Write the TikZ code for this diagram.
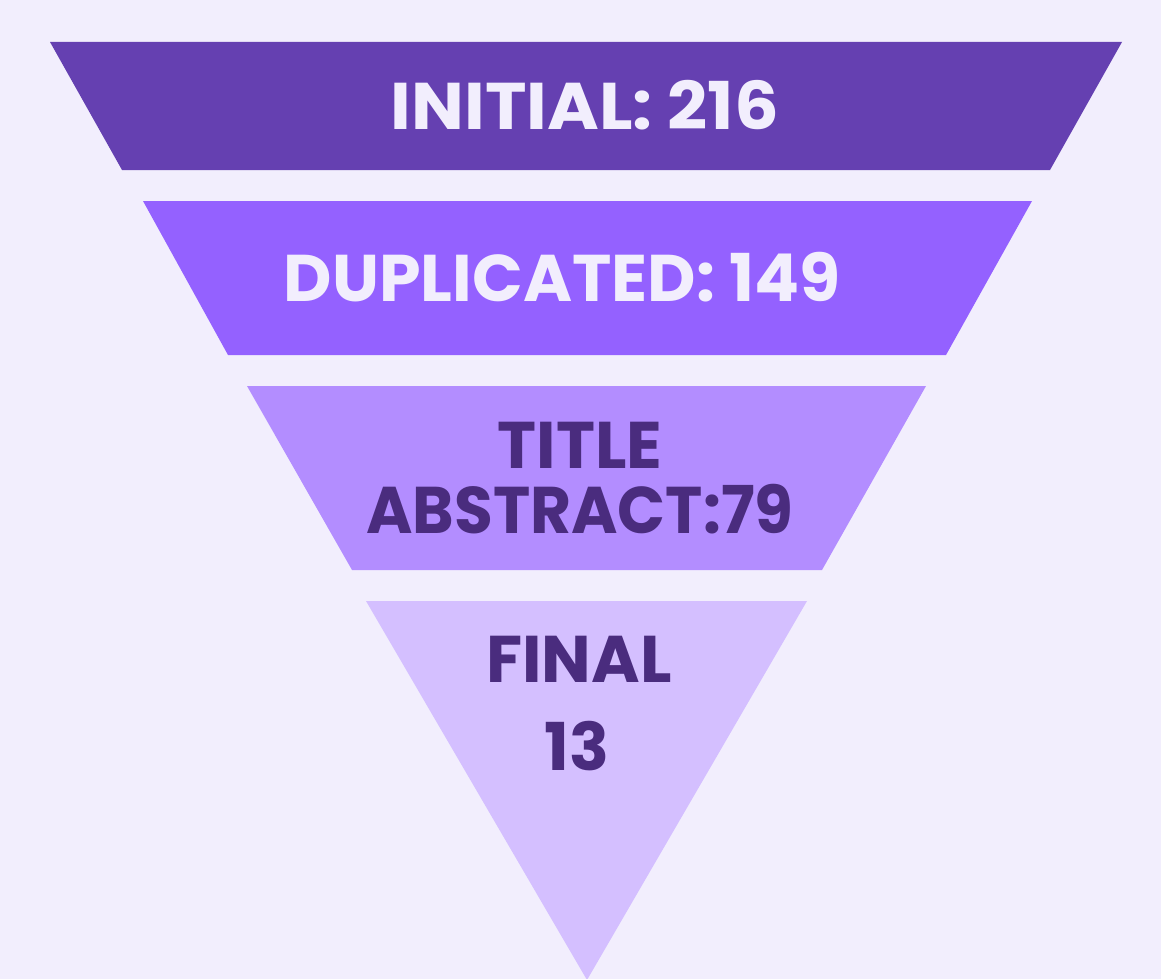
\documentclass[tikz,border=0pt]{standalone}
\usepackage{fontspec}
\setmainfont{Poppins}
\definecolor{bgc}{HTML}{F2EEFD}
\definecolor{lvA}{HTML}{6540B1}
\definecolor{lvB}{HTML}{9461FF}
\definecolor{lvC}{HTML}{B38DFF}
\definecolor{lvD}{HTML}{D4BFFF}
\definecolor{txtlight}{HTML}{F2EEFD}
\definecolor{txtdark}{HTML}{4A2C7E}
\tikzset{
  lbl/.style={inner sep=0pt, anchor=base, font=\fontsize{66}{70}\selectfont\bfseries},
  lbllight/.style={lbl, text=txtlight},
  lbldark/.style={lbl, text=txtdark},
}
\begin{document}
\begin{tikzpicture}[x=1pt,y=-1pt]
\fill[bgc] (0,0) rectangle (1161,979);
\useasboundingbox (0,0) rectangle (1161,979);
% funnel stages
\fill[lvA] (50,42) -- (1122,42) -- (1050,170) -- (122,170) -- cycle;
\fill[lvB] (143,201) -- (1032,201) -- (946,355) -- (228,355) -- cycle;
\fill[lvC] (247,386) -- (926,386) -- (822,570) -- (352,570) -- cycle;
\fill[lvD] (366,601) -- (807,601) -- (587,980) -- cycle;
% labels
\node[lbllight] (initial) at (585,129) {\scalebox{1.065}[1]{INITIAL: 216}};
\node[lbllight] (dup) at (562,301) {\scalebox{1.01}[1]{DUPLICATED: 149}};
\node[lbldark] (title) at (580,468) {TITLE};
\node[lbldark] (abstract) at (580,533) {\scalebox{0.955}[1]{ABSTRACT:79}};
\node[lbldark] (final) at (579,682) {FINAL};
\node[lbldark] (num) at (577,770) {13};
\end{tikzpicture}
\end{document}
